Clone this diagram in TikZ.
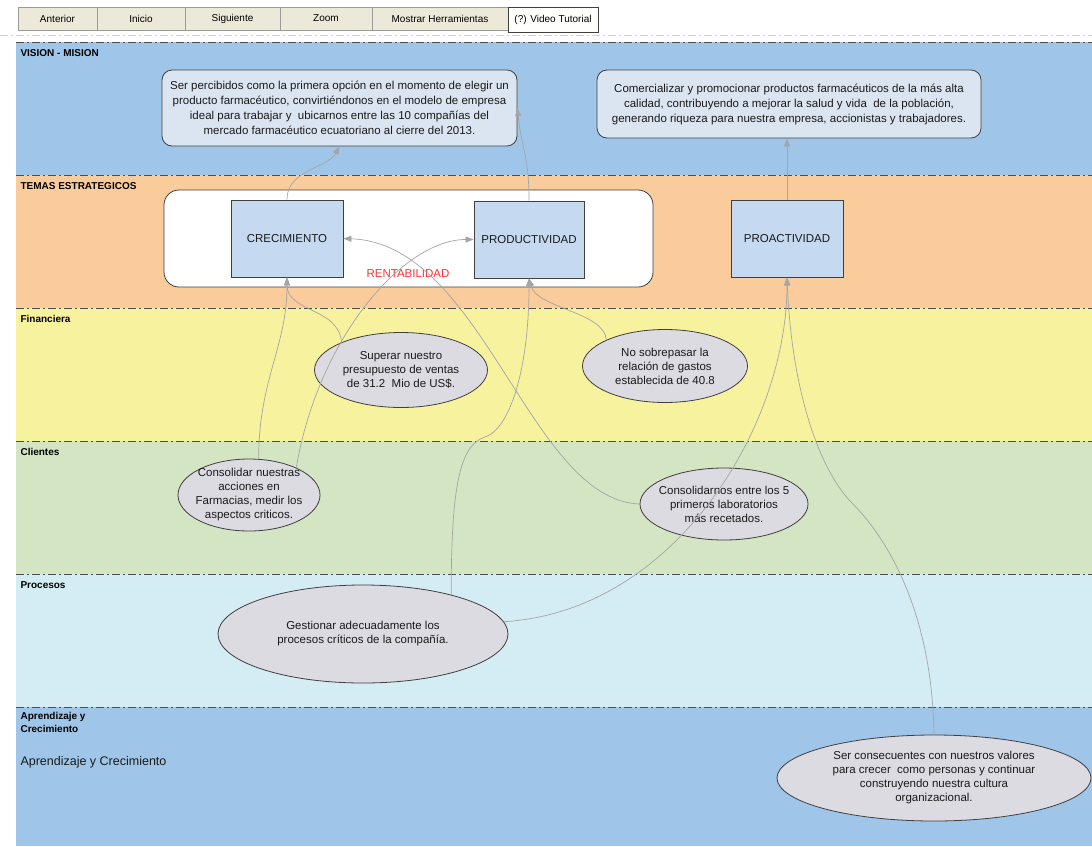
\documentclass[tikz,border=0pt]{standalone}
\usepackage{fontspec}
\setmainfont{Liberation Sans}
\usetikzlibrary{shapes.geometric,arrows.meta}
\definecolor{bandaazul}{HTML}{9FC6E9}
\definecolor{bandanaranja}{HTML}{FACB9B}
\definecolor{bandaamarilla}{HTML}{F7F29E}
\definecolor{bandaverde}{HTML}{D3E5C3}
\definecolor{bandaceleste}{HTML}{D4ECF4}
\definecolor{cajaclara}{HTML}{DBE5F1}
\definecolor{cajatema}{HTML}{C5D9F1}
\definecolor{elipse}{HTML}{DDDBE2}
\definecolor{borde}{HTML}{3F3F3F}
\definecolor{linea}{HTML}{A5A5A5}
\definecolor{guion}{HTML}{4D4D4D}
\definecolor{grisclaro}{HTML}{D0D0D0}
\definecolor{botonfondo}{HTML}{ECE9D8}
\definecolor{botonborde}{HTML}{9A9A9A}
\definecolor{texto}{HTML}{1A1A1A}
\definecolor{rojo}{HTML}{FF3333}
\begin{document}
\begin{tikzpicture}[x=1pt, y=-1pt, font=\fontsize{11.5}{14}\selectfont, >={Triangle[length=8pt,width=6pt]},
		caja/.style={draw=borde, fill=cajaclara, rounded corners=10pt, line width=0.8pt, align=center, text=texto, font=\fontsize{11.5}{15}\selectfont},
		tema/.style={draw=borde, fill=cajatema, line width=0.8pt, minimum width=112pt, minimum height=77pt, text=texto},
		objetivo/.style={ellipse, draw=borde, fill=elipse, line width=0.8pt, inner xsep=-20pt, inner ysep=-8pt, align=center, text=texto},
		conector/.style={draw=linea, line width=0.7pt, ->},
		separador/.style={draw=guion, line width=0.9pt, dash pattern=on 8pt off 3pt on 2pt off 3pt},
		rotulo/.style={anchor=west, font=\fontsize{10}{13}\selectfont\bfseries, align=left},
		boton/.style={draw=botonborde, fill=botonfondo, minimum height=23pt, font=\fontsize{10}{12}\selectfont}]
	\useasboundingbox (0,0) rectangle (1092,846);
	\fill[white] (0,0) rectangle (1092,846);
	\node[boton, minimum width=79pt] (anterior) at (57.5,18.5) {Anterior};
	\node[boton, minimum width=88pt] (inicio) at (141,18.5) {Inicio};
	\node[boton, minimum width=95pt] (siguiente) at (232.5,18.5) {Siguiente};
	\node[boton, minimum width=92pt] (zoom) at (326,18.5) {Zoom};
	\node[boton, minimum width=136pt] (herramientas) at (440,18.5) {Mostrar Herramientas};
	\node[boton, draw=borde, fill=white!96!botonfondo, minimum width=90pt, minimum height=25pt] (video) at (553,19.5) {(?) Video Tutorial};
	\draw[separador, draw=grisclaro] (0,35) -- (1092,35);
	\fill[bandaazul] (16,42) rectangle (1092,175);
	\fill[bandanaranja] (16,175) rectangle (1092,308);
	\fill[bandaamarilla] (16,308) rectangle (1092,441);
	\fill[bandaverde] (16,441) rectangle (1092,574);
	\fill[bandaceleste] (16,574) rectangle (1092,707);
	\fill[bandaazul] (16,707) rectangle (1092,846);
	\draw[separador] (16,42) -- (1092,42);
	\draw[separador] (16,175) -- (1092,175);
	\draw[separador] (16,308) -- (1092,308);
	\draw[separador] (16,441) -- (1092,441);
	\draw[separador] (16,574) -- (1092,574);
	\draw[separador] (16,707) -- (1092,707);
	\node[rotulo] (lvision) at (17,53) {VISION - MISION};
	\node[rotulo] (ltemas) at (17,186) {TEMAS ESTRATEGICOS};
	\node[rotulo] (lfinanciera) at (17,319) {Financiera};
	\node[rotulo] (lclientes) at (17,452) {Clientes};
	\node[rotulo] (lprocesos) at (17,585) {Procesos};
	\node[rotulo, anchor=north west] (laprendizaje) at (17,709) {Aprendizaje y\\Crecimiento};
	\node[anchor=west, font=\fontsize{12.5}{15}\selectfont, text=texto] (perspectiva) at (17,762) {Aprendizaje y Crecimiento};
	\node[caja, minimum width=355pt, minimum height=76pt] (mision1) at (339.5,108) {Ser percibidos como la primera opción en el momento de elegir un\\producto farmacéutico, convirtiéndonos en el modelo de empresa\\ideal para trabajar y \ ubicarnos entre las 10 compañías del\\mercado farmacéutico ecuatoriano al cierre del 2013.};
	\node[caja, minimum width=384pt, minimum height=68pt] (mision2) at (789,104) {Comercializar y promocionar productos farmacéuticos de la más alta\\calidad, contribuyendo a mejorar la salud y vida \ de la población,\\generando riqueza para nuestra empresa, accionistas y trabajadores.};
	\node[draw=borde, fill=white, rounded corners=15pt, line width=0.8pt, minimum width=489pt, minimum height=97pt] (grupo) at (408.5,238.5) {};
	\node[tema] (crec) at (287,238.5) {CRECIMIENTO};
	\node[tema, minimum width=110pt] (prod) at (529,239.5) {PRODUCTIVIDAD};
	\node[tema] (proa) at (787,238.5) {PROACTIVIDAD};
	\node[text=rojo] (rent) at (408,274) {RENTABILIDAD};
	\node[objetivo, minimum width=173pt, minimum height=75pt] (superar) at (401,370) {Superar nuestro\\presupuesto de ventas\\de 31.2 \ Mio de US\$.};
	\node[objetivo, minimum width=165pt, minimum height=73pt] (gastos) at (665,366) {No sobrepasar la\\relación de gastos\\establecida de 40.8};
	\node[objetivo, minimum width=142pt, minimum height=72pt] (farmacias) at (249,495) {Consolidar nuestras\\acciones en\\Farmacias, medir los\\aspectos criticos.};
	\node[objetivo, minimum width=168pt, minimum height=72pt] (laboratorios) at (724,504) {Consolidarnos entre los 5\\primeros laboratorios\\más recetados.};
	\node[objetivo, minimum width=290pt, minimum height=98pt] (procesos) at (363,634) {Gestionar adecuadamente los\\procesos críticos de la compañía.};
	\node[objetivo, minimum width=314pt, minimum height=86pt] (valores) at (934,778) {Ser consecuentes con nuestros valores\\para crecer \ como personas y continuar\\construyendo nuestra cultura\\organizacional.};
	\draw[conector] (crec.north) .. controls +(0,-30) and +(-12,22) .. (mision1.south);
	\draw[conector] (prod.north) .. controls +(0,-45) and +(4,40) .. (mision1.east);
	\draw[conector] (proa.north) -- (proa.north |- mision2.south);
	\draw[conector] (farmacias.75) .. controls +(0,-80) and +(0,70) .. (crec.south);
	\draw[conector] (farmacias.30) .. controls +(22,-130) and +(-70,0) .. (prod.west);
	\draw[conector] (superar.155) .. controls +(-3,-35) and +(0,35) .. (crec.south);
	\draw[conector] (laboratorios.west) .. controls +(-110,-4) and +(140,5) .. (crec.east);
	\draw[conector] (procesos.24) .. controls +(0,-110) and +(-25,8) .. (485,437) .. controls +(25,-8) and +(0,90) .. (prod.south);
	\draw[conector] (gastos.156) .. controls +(-2,-28) and +(8,30) .. (prod.south);
	\draw[conector] (procesos.5) .. controls +(170,-10) and +(0,150) .. (proa.south);
	\draw[conector] (valores.north) .. controls +(-2,-130) and +(30,30) .. (852,503) .. controls +(-30,-30) and +(5,120) .. (proa.south);
\end{tikzpicture}
\end{document}
